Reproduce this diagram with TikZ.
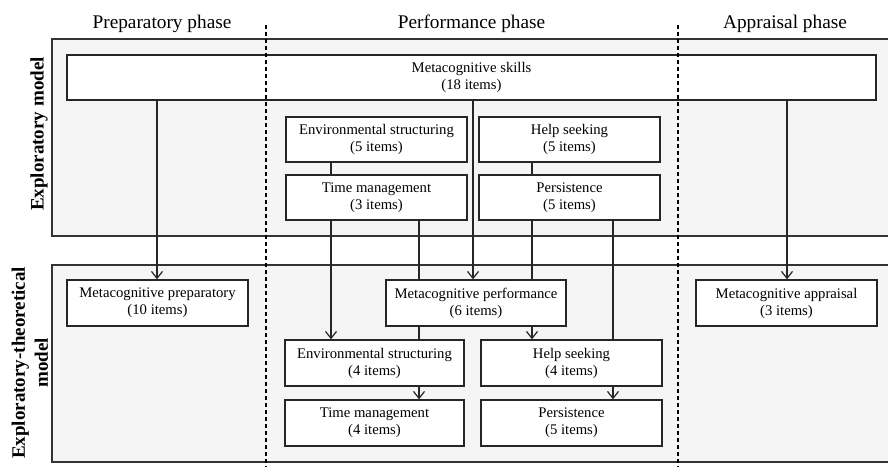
\documentclass[tikz,border=0pt]{standalone}
\usepackage{fontspec}
\setmainfont{Liberation Serif}
\usetikzlibrary{arrows.meta,calc}
\begin{document}
\begin{tikzpicture}[x=1pt,y=-1pt,
  panel/.style={fill=black!4,draw=none},
  pborder/.style={draw=black!80,line width=1.2pt},
  box/.style={draw=black!85,fill=white,line width=1.3pt,align=center,inner sep=0pt,
    font=\fontsize{14.7}{17}\selectfont},
  phase/.style={font=\fontsize{19.3}{22}\selectfont,anchor=base},
  side/.style={font=\bfseries\fontsize{19}{23}\selectfont,rotate=90,align=center},
  ln/.style={draw=black!85,line width=1.3pt},
  arr/.style={ln,-{Straight Barb[length=7pt,width=11pt,line width=1.2pt]}},
  sep/.style={draw=black,line width=1.1pt,dash pattern=on 4pt off 3pt}]
\useasboundingbox (0,0) rectangle (888,467);
% panels
\fill[panel] (52,39) rectangle (890,236);
\fill[panel] (52,265) rectangle (890,462);
\draw[pborder] (890,39) -- (52,39) -- (52,236) -- (890,236);
\draw[pborder] (890,265) -- (52,265) -- (52,462) -- (890,462);
% phase titles
\node[phase] (tprep) at (162,28) {Preparatory phase};
\node[phase] (tperf) at (471.5,28) {Performance phase};
\node[phase] (tappr) at (785,28) {Appraisal phase};
% side labels
\node[side] (sexp) at (39,134) {Exploratory model};
\node[side] (sext) at (30,363) {Exploratory-theoretical\\model};
% boxes
\node[box,minimum width=809pt,minimum height=45pt] (skills) at (471.5,77.5) {Metacognitive skills\\(18 items)};
\node[box,minimum width=181pt,minimum height=45pt] (env5) at (376.5,139.5) {Environmental structuring\\(5 items)};
\node[box,minimum width=181pt,minimum height=45pt] (hs5) at (569.5,139.5) {Help seeking\\(5 items)};
\node[box,minimum width=181pt,minimum height=45pt] (tm3) at (376.5,197.5) {Time management\\(3 items)};
\node[box,minimum width=181pt,minimum height=45pt] (pers5) at (569.5,197.5) {Persistence\\(5 items)};
\node[box,minimum width=181pt,minimum height=46pt] (prep) at (157.5,303) {Metacognitive preparatory\\(10 items)};
\node[box,minimum width=180pt,minimum height=46pt] (mp) at (476,303) {Metacognitive performance\\(6 items)};
\node[box,minimum width=181pt,minimum height=46pt] (appr) at (786.5,303) {Metacognitive appraisal\\(3 items)};
\node[box,minimum width=179pt,minimum height=46pt] (env4) at (374.5,363) {Environmental structuring\\(4 items)};
\node[box,minimum width=181pt,minimum height=46pt] (hs4) at (571.5,363) {Help seeking\\(4 items)};
\node[box,minimum width=179pt,minimum height=46pt] (tm4) at (374.5,423) {Time management\\(4 items)};
\node[box,minimum width=181pt,minimum height=46pt] (pers4) at (571.5,423) {Persistence\\(5 items)};
% connectors
\draw[arr] (skills.south -| 157,0) -- (prep.north -| 157,0);
\draw[arr] (skills.south -| 473,0) -- (mp.north -| 473,0);
\draw[arr] (skills.south -| 787,0) -- (appr.north -| 787,0);
\draw[ln] (env5.south -| 331,0) -- (tm3.north -| 331,0);
\draw[ln] (hs5.south -| 532,0) -- (pers5.north -| 532,0);
\draw[arr] (tm3.south -| 331,0) -- (env4.north -| 331,0);
\draw[ln] (tm3.south -| 419,0) -- (mp.north -| 419,0);
\draw[ln] (pers5.south -| 532,0) -- (mp.north -| 532,0);
\draw[ln] (pers5.south -| 613,0) -- (hs4.north -| 613,0);
\draw[ln] (mp.south -| 419,0) -- (env4.north -| 419,0);
\draw[arr] (env4.south -| 419,0) -- (tm4.north -| 419,0);
\draw[arr] (mp.south -| 532,0) -- (hs4.north -| 532,0);
\draw[arr] (hs4.south -| 613,0) -- (pers4.north -| 613,0);
% phase separators
\coordinate (d1t) at (266,25); \coordinate (d1b) at (266,467);
\coordinate (d2t) at (678,25); \coordinate (d2b) at (678,467);
\draw[sep] (d1t) -- (d1b);
\draw[sep] (d2t) -- (d2b);
\end{tikzpicture}
\end{document}
